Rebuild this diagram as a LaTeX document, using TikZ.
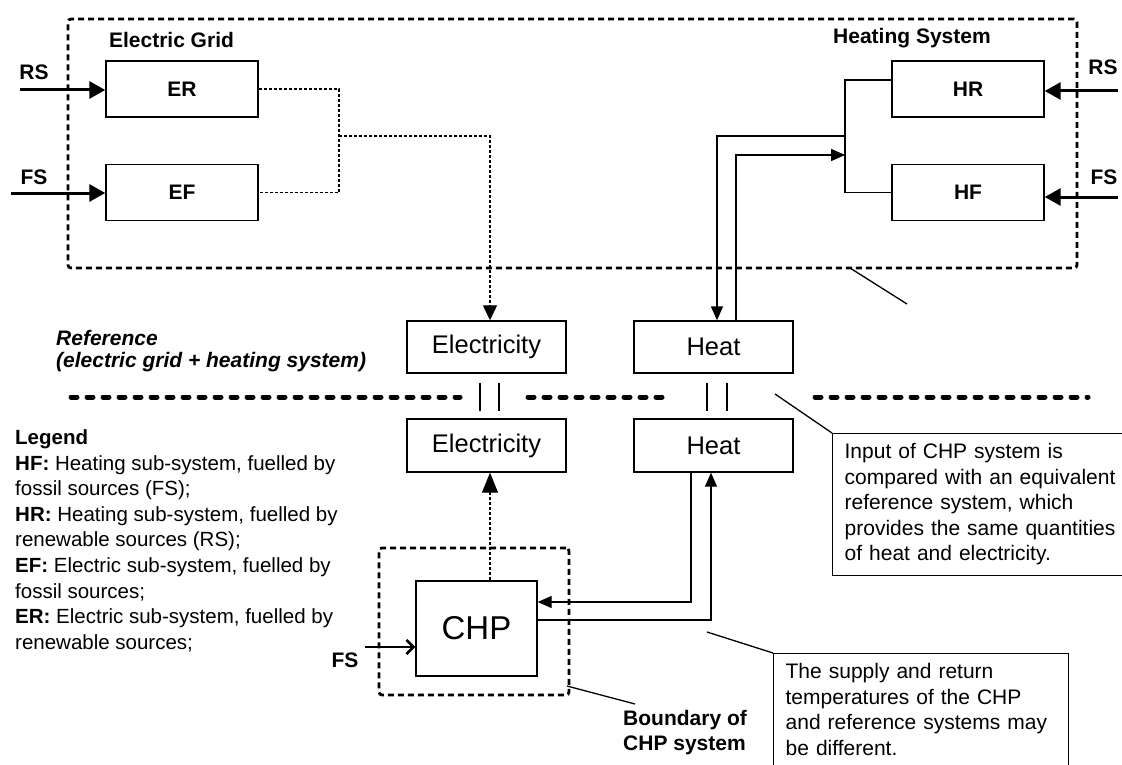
\documentclass[tikz,border=0pt]{standalone}
\usepackage{fontspec}
\setmainfont{Liberation Sans}
\usetikzlibrary{arrows.meta}
\begin{document}
\begin{tikzpicture}[x=1pt,y=-1pt,
  blk/.style={draw,line width=1.4pt,minimum width=152pt,minimum height=56pt,inner sep=0pt,font=\fontsize{21}{25}\selectfont\bfseries},
  qty/.style={draw,line width=1.4pt,minimum width=159pt,minimum height=52pt,inner sep=0pt,font=\fontsize{25.5}{30}\selectfont},
  chpbox/.style={draw,line width=1.4pt,minimum width=121pt,minimum height=95pt,inner sep=0pt,font=\fontsize{33}{38}\selectfont},
  boundary/.style={draw,line width=2.8pt,dash pattern=on 6pt off 4pt,rounded corners=3pt,inner sep=0pt},
  lbl/.style={inner sep=0pt,font=\fontsize{21}{25}\selectfont\bfseries},
  note/.style={draw,line width=1.3pt,align=left,inner xsep=12pt,inner ysep=10pt,font=\fontsize{21}{25.5}\selectfont},
  bigarrow/.style={line width=3pt,-{Triangle[length=16pt,width=17pt]}},
  thinarrow/.style={line width=1.4pt,-{Triangle[length=14pt,width=12pt]}},
  pipe/.style={line width=1.4pt},
  dotline/.style={line width=1.2pt,dash pattern=on 3pt off 2pt},
  dotarrow/.style={line width=1.2pt,dash pattern=on 3pt off 2pt,-{Triangle[length=15pt,width=14pt]}},
  dotarrowbig/.style={line width=1.2pt,dash pattern=on 3pt off 2pt,-{Triangle[length=20pt,width=16pt]}},
  openarrow/.style={line width=2.6pt,-{Straight Barb[length=7pt,width=14pt]}},
  eqline/.style={line width=1.4pt},
  sep/.style={line width=5pt,line cap=round,dash pattern=on 6pt off 10pt},
  leader/.style={line width=1.3pt}
]
\useasboundingbox (0,0) rectangle (1122,765);

% outer reference boundary
\node[boundary,minimum width=1009pt,minimum height=249pt] (grid) at (572.5,143.5) {};
\node[lbl,anchor=base] (eg) at (171.5,48) {Electric Grid};
\node[lbl,anchor=base] (hs) at (912,44) {Heating System};

% sub-systems
\node[blk] (ER) at (182,89) {ER};
\node[blk] (EF) at (182,192.5) {EF};
\node[blk] (HR) at (968,89) {HR};
\node[blk] (HF) at (968,192.5) {HF};

% source labels
\node[lbl,anchor=base] (rsl) at (34,80) {RS};
\node[lbl,anchor=base] (fsl) at (34,185) {FS};
\node[lbl,anchor=base] (rsr) at (1103,75) {RS};
\node[lbl,anchor=base] (fsr) at (1104,185) {FS};

% quantity boxes
\node[qty] (ElecU) at (486.5,347) {Electricity};
\node[qty] (HeatU) at (713.5,347) {Heat};
\node[qty,minimum height=53pt] (ElecL) at (486.5,445.5) {Electricity};
\node[qty,minimum height=53pt] (HeatL) at (713.5,445.5) {Heat};

% CHP
\node[chpbox] (CHP) at (476.5,628.5) {CHP};
\node[boundary,minimum width=190pt,minimum height=147pt] (chpb) at (474,621.5) {};
\node[lbl,anchor=base] (fsc) at (345,667) {FS};

% texts
\node[anchor=north west,inner sep=0pt,align=left,font=\fontsize{21}{22}\selectfont\bfseries\itshape] (ref) at (56,330.5) {Reference\\(electric grid + heating system)};
\node[anchor=north west,inner sep=0pt,align=left,font=\fontsize{20.5}{25.6}\selectfont] (leg) at (15,429.5) {\textbf{Legend}\\\textbf{HF:} Heating sub-system, fuelled by\\fossil sources (FS);\\\textbf{HR:} Heating sub-system, fuelled by\\renewable sources (RS);\\\textbf{EF:} Electric sub-system, fuelled by\\fossil sources;\\\textbf{ER:} Electric sub-system, fuelled by\\renewable sources;};
\node[anchor=north west,inner sep=0pt,align=left,font=\fontsize{21}{25}\selectfont\bfseries] (bnd) at (623,710.5) {Boundary of\\CHP system};
\node[note,anchor=north west,text width=290pt] (n1) at (832,433) {Input of CHP system is\\compared with an equivalent\\reference system, which\\provides the same quantities\\of heat and electricity.};
\node[note,anchor=north west,text width=271pt] (n2) at (773,653) {The supply and return\\temperatures of the CHP\\and reference systems may\\be different.};

% source arrows
\coordinate (rsL) at (20,90);
\coordinate (fsL) at (11,193);
\coordinate (rsR) at (1118,91);
\coordinate (fsR) at (1118,197);
\draw[bigarrow] (rsL) -- (rsL -| ER.west);
\draw[bigarrow] (fsL) -- (fsL -| EF.west);
\draw[bigarrow] (rsR) -- (rsR -| HR.east);
\draw[bigarrow] (fsR) -- (fsR -| HF.east);

% electric grid dotted connection
\coordinate (j1) at (339,136);
\draw[dotline] (ER.east) -| (j1) |- (EF.east);
\draw[dotarrow] (j1) -| ([xshift=3.5pt]ElecU.north);

% heating bus
\coordinate (bs) at (845,136);
\coordinate (br) at (845,155);
\draw[pipe] ([yshift=9pt]HR.west) -| (bs) |- (HF.west);
\draw[thinarrow] (bs) -| ([xshift=3.5pt]HeatU.north);
\draw[thinarrow] ([xshift=22.5pt]HeatU.north) |- (br);

% equality marks
\draw[eqline] ([xshift=-6.5pt,yshift=-9pt]ElecU.south) -- ([xshift=-6.5pt,yshift=7pt]ElecL.north);
\draw[eqline] ([xshift=12.5pt,yshift=-9pt]ElecU.south) -- ([xshift=12.5pt,yshift=7pt]ElecL.north);
\draw[eqline] ([xshift=-6.5pt,yshift=-9pt]HeatU.south) -- ([xshift=-6.5pt,yshift=7pt]HeatL.north);
\draw[eqline] ([xshift=13.5pt,yshift=-9pt]HeatU.south) -- ([xshift=13.5pt,yshift=7pt]HeatL.north);

% separator
\draw[sep] (71,397) -- (460,397);
\draw[sep] (528,397) -- (671,397);
\draw[sep] (815,397) -- (1088,397);

% CHP connections
\coordinate (eL) at ([xshift=3.5pt]ElecL.south);
\draw[dotarrowbig] (CHP.north -| eL) -- (eL);
\draw[thinarrow] ([xshift=-22.5pt]HeatL.south) |- ([yshift=26.5pt]CHP.east);
\draw[thinarrow] ([yshift=8.5pt]CHP.east) -| ([xshift=-2.5pt]HeatL.south);
\coordinate (fsC) at (365,647);
\draw[openarrow] (fsC) -- (fsC -| CHP.west);

% leader lines
\coordinate (l1a) at (850,268);
\coordinate (l1b) at (907,304);
\draw[leader] (l1a) -- (l1b);
\coordinate (l2a) at (775,394);
\draw[leader] (l2a) -- (n1.north west);
\coordinate (l3a) at (707,632);
\draw[leader] (l3a) -- (n2.north west);
\coordinate (l4a) at (567,686);
\coordinate (l4b) at (635,704);
\draw[leader] (l4a) -- (l4b);
\end{tikzpicture}
\end{document}
